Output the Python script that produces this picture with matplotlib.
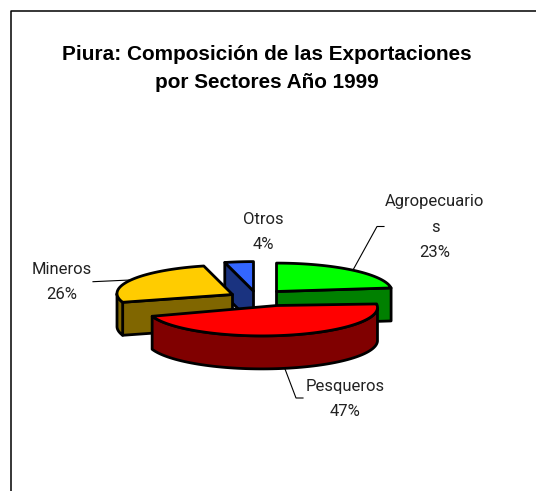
import numpy as np
import matplotlib
matplotlib.use("Agg")
import matplotlib.pyplot as plt
from matplotlib.patches import Polygon

title = "Piura: Composición de las Exportaciones\npor Sectores Año 1999"
categories = ["Agropecuarios", "Pesqueros", "Mineros", "Otros"]
label_texts = ["Agropecuario\ns\n23%", "Pesqueros\n47%", "Mineros\n26%", "Otros\n4%"]
values = [23, 47, 26, 4]
top_colors = ["#00FF00", "#FF0000", "#FFCC00", "#3366FF"]
side_colors = ["#008000", "#800000", "#806600", "#1A3380"]
centers = [(276.5, 291.5), (262, 307.5), (232.5, 293.5), (253.5, 290)]
hubs = [(276.5, 291.5), (277, 305.5), (232.5, 294.5), (253.5, 291)]
label_pos = [(435, 227), (345, 399), (62, 282), (263, 232)]
leaders = [[(353, 270), (377, 226.5), (384, 226.5)],
           [(285, 369), (296, 398), (303, 398)],
           [(93, 281.7), (130, 280)]]

RX, RY, DEPTH = 115.5, 28.4, 33
W, H = 536, 491

fig = plt.figure(figsize=(W / 100, H / 100), dpi=100, facecolor="white")
ax = fig.add_axes([0, 0, 1, 1])
ax.set_xlim(0, W)
ax.set_ylim(H, 0)
ax.axis("off")

LW = 2.0
def rim(c, theta):
    return np.column_stack([c[0] + RX * np.sin(theta), c[1] - RY * np.cos(theta)])

def poly(pts, color, z):
    ax.add_patch(Polygon(pts, closed=True, fc=color, ec="black", lw=LW, joinstyle="round", zorder=z))

edges = np.cumsum([0] + values) / sum(values) * 2 * np.pi
order = [3, 2, 0, 1]
dn = np.array([0, DEPTH])
for z, i in enumerate(order):
    t0, t1 = edges[i], edges[i + 1]
    th = np.linspace(t0, t1, 80)
    r = rim(centers[i], th)
    base = 10 * z + 2
    hub = np.array(hubs[i])
    if i == 0:
        poly([hub, r[-1], r[-1] + dn, hub + dn], side_colors[i], base)
    if i in (2, 3):
        poly([hub, r[0], r[0] + dn, hub + dn], side_colors[i], base)
    mask = (th > np.pi / 2) & (th < 3 * np.pi / 2)
    if mask.any():
        w = r[mask]
        poly(np.vstack([w, (w + dn)[::-1]]), side_colors[i], base + 1)
    poly(np.vstack([hub, r]), top_colors[i], base + 2)

for pts in leaders:
    xs, ys = zip(*pts)
    ax.plot(xs, ys, color="black", lw=0.8, zorder=60)

for txt, (x, y) in zip(label_texts, label_pos):
    ax.text(x, y, txt, ha="center", va="center", fontsize=12, color="#222222",
            family="Roboto", linespacing=1.85, zorder=70)

ax.text(267, 68, title, ha="center", va="center", fontsize=14.95, fontweight="bold",
        family="Liberation Sans", color="black", linespacing=1.6, zorder=70)

ax.plot([10.5, 10.5, W + 2], [H + 2, 10.5, 10.5], color="black", lw=1.1, zorder=80)

fig.savefig("out.png", dpi=100, facecolor="white")
